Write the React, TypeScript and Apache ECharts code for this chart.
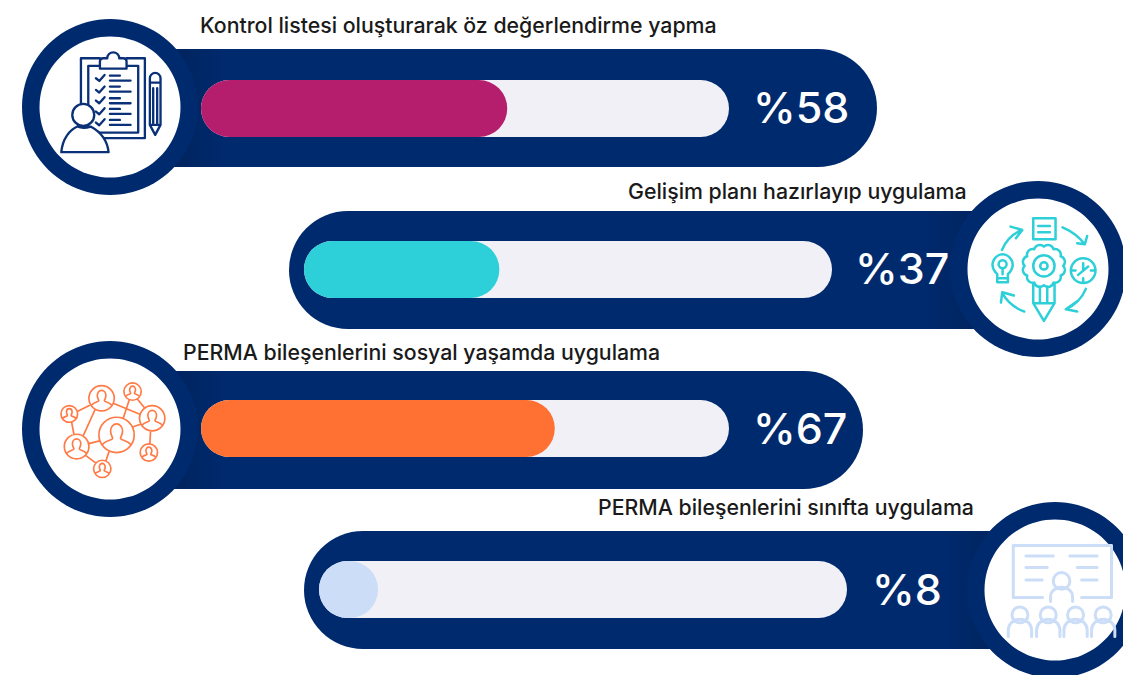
import React, { useEffect, useRef } from "react";
import * as echarts from "echarts";

const categories = [
  "Kontrol listesi oluşturarak öz değerlendirme yapma",
  "Gelişim planı hazırlayıp uygulama",
  "PERMA bileşenlerini sosyal yaşamda uygulama",
  "PERMA bileşenlerini sınıfta uygulama",
];
const values = [58, 37, 67, 8];
const barColors = ["#B41E6C", "#2DCFD8", "#FF7033", "#CCDDF8"];

const NAVY = "#002A6E";
const SHADE = "#00245F";
const TRACK = "#F0F0F6";
const FONT = "Inter, 'Noto Sans', sans-serif";

const trackLeft = [201, 304, 201, 319];
const trackTop = [80, 241, 400, 561];
const pillLeft = [100, 289, 100, 304];
const pillRight = [877, 1038, 863, 1055];
const pillTop = [49, 211, 371, 531];
const circleX = [110, 1038, 110, 1055];
const circleY = [107, 269, 429, 590];
const titleX = [200, 628, 183, 598];
const titleY = [25, 191, 352, 507];
const valueX = [753, 855, 753, 872];
const valueY = [107, 268, 428, 589];
const shadeFrom = [180, 975, 180, 990];
const shadeTo = [225, 925, 225, 945];

const circ = (cx: number, cy: number, r: number) =>
  `M${cx - r} ${cy}a${r} ${r} 0 1 0 ${2 * r} 0a${r} ${r} 0 1 0 ${-2 * r} 0Z`;
const seg = (x1: number, y1: number, x2: number, y2: number) => `M${x1} ${y1}L${x2} ${y2}`;

function gear(cx: number, cy: number, r: number, lobes: number) {
  let d = "";
  for (let i = 0; i <= lobes; i++) {
    const a = (i / lobes) * Math.PI * 2;
    const x = cx + r * Math.cos(a);
    const y = cy + r * Math.sin(a);
    d += i === 0 ? `M${x} ${y}` : `A${r * 0.3} ${r * 0.3} 0 0 1 ${x} ${y}`;
  }
  return d + "Z";
}

function person(cx: number, cy: number, r: number) {
  const h = r * 0.34;
  return (
    `M${cx - h} ${cy - r * 0.22}a${h} ${h * 1.2} 0 1 1 ${2 * h} 0` +
    `c0 ${r * 0.2} ${-r * 0.1} ${r * 0.3} ${-r * 0.12} ${r * 0.42}` +
    `c0 ${r * 0.1} ${r * 0.4} ${r * 0.1} ${r * 0.55} ${r * 0.32}` +
    `M${cx - h} ${cy - r * 0.22}` +
    `c0 ${r * 0.2} ${r * 0.1} ${r * 0.3} ${r * 0.12} ${r * 0.42}` +
    `c0 ${r * 0.1} ${-r * 0.4} ${r * 0.1} ${-r * 0.55} ${r * 0.32}`
  );
}

const checks = [205, 240, 272, 305, 338]
  .map((y) => `M228 ${y}L238 ${y + 8}L254 ${y - 10}`)
  .join("");
const listLines = [197, 230, 265, 297, 330]
  .map((y) => seg(270, y, 300, y) + seg(270, y + 15, 332, y + 15))
  .join("");

const iconClipboard =
  "M240 145H183V385H375V145H320M240 168H205V368H355V168H320" +
  "M240 176V155Q240 145 250 145H262A18 18 0 0 1 298 145H310Q320 145 320 155V176Z" +
  checks +
  listLines +
  "M390 345V205A16 16 0 0 1 422 205V345L406 375ZM390 218H422M400 235V340M412 235V340M390 345H422";
const iconPerson =
  circ(190, 315, 33) + "M124 427C128 385 150 360 172 350Q190 358 212 350C240 365 262 390 266 427Z";

const iconGrowth =
  "M280 130H347V193H280ZM295 153H330M295 172H330" +
  "M186 225Q205 180 247 165M212 155L247 165L228 190" +
  "M368 157Q410 175 435 208M442 183L435 208L412 205" +
  "M438 342Q420 385 378 403M414 378L378 403L412 410" +
  "M253 410Q210 395 187 355M183 383L187 352L222 362" +
  gear(312, 273, 58, 12) +
  circ(312, 273, 32) +
  circ(312, 273, 11) +
  "M280 325V385L312 438L344 385V325M280 385H344M300 335V385M322 335V385" +
  "M172 298C140 265 170 238 188 238C206 238 236 265 204 298V322H172ZM188 280V298M175 310H200" +
  circ(188, 268, 12) +
  circ(430, 287, 37) +
  "M430 265V285M415 300L445 275M393 287H407M453 287H467M430 310V322";

const netNodes = [
  [290, 300, 53],
  [245, 190, 38],
  [338, 170, 26],
  [397, 250, 38],
  [148, 237, 25],
  [170, 335, 37],
  [247, 402, 26],
  [387, 353, 26],
];
const iconNetwork =
  netNodes.map(([x, y, r]) => circ(x, y, r) + person(x, y, r)).join("") +
  seg(172, 230, 208, 212) +
  seg(280, 205, 360, 238) +
  seg(328, 195, 310, 250) +
  seg(353, 193, 375, 220) +
  seg(225, 225, 190, 302) +
  seg(155, 262, 162, 298) +
  seg(205, 327, 238, 318) +
  seg(198, 362, 228, 385) +
  seg(268, 348, 258, 378) +
  seg(342, 275, 362, 268) +
  seg(392, 288, 390, 327);

const iconClass =
  "M248 308H160V152H455V308H365" +
  "M198 183H280M198 218H262M198 255H247M330 183H412M352 218H412M365 255H412" +
  circ(305, 258, 25) +
  "M272 320V305A33 28 0 0 1 338 305V320" +
  [180, 265, 347, 430]
    .map((x) => circ(x, 360, 24) + `M${x - 35} 425V405A35 32 0 0 1 ${x + 35} 405V425`)
    .join("");

const iconDefs = [
  { name: "iconClipboard", d: iconClipboard, x: 20, y: 10, stroke: "#0A3178", lw: 7, fill: "none" },
  { name: "iconPerson", d: iconPerson, x: 20, y: 10, stroke: "#0A3178", lw: 7, fill: "#fff" },
  { name: "iconGrowth", d: iconGrowth, x: 940, y: 175, stroke: "#2DCFD8", lw: 7.5, fill: "none" },
  { name: "iconNetwork", d: iconNetwork, x: 20, y: 335, stroke: "#FF7A45", lw: 5, fill: "none" },
  { name: "iconClass", d: iconClass, x: 960, y: 495, stroke: "#CCDDF8", lw: 9, fill: "none" },
];
iconDefs.forEach((i) =>
  echarts.graphic.registerShape(i.name, echarts.graphic.extendPath(i.d, {}) as any)
);

export default function App() {
  const ref = useRef<HTMLDivElement>(null);
  useEffect(() => {
    const chart = echarts.init(ref.current!, undefined, { renderer: "svg" });
    const idx = categories.map((_, i) => i);
    const graphic: any[] = [];
    idx.forEach((i) => {
      graphic.push({
        type: "rect",
        shape: { x: pillLeft[i], y: pillTop[i], width: pillRight[i] - pillLeft[i], height: 118, r: 59 },
        style: {
          fill: new echarts.graphic.LinearGradient(
            shadeFrom[i],
            0,
            shadeTo[i],
            0,
            [
              { offset: 0, color: SHADE },
              { offset: 1, color: NAVY },
            ],
            true
          ),
        },
      });
    });
    idx.forEach((i) => {
      graphic.push({ type: "circle", shape: { cx: circleX[i], cy: circleY[i], r: 88 }, style: { fill: NAVY } });
      graphic.push({ type: "circle", shape: { cx: circleX[i], cy: circleY[i], r: 70.5 }, style: { fill: "#fff" } });
      graphic.push({
        type: "text",
        x: titleX[i],
        y: titleY[i],
        style: { text: categories[i], fill: "#1A1A1A", font: `500 21.3px ${FONT}`, verticalAlign: "middle", align: "left" },
      });
      graphic.push({
        type: "text",
        x: valueX[i],
        y: valueY[i],
        style: { text: `%${values[i]}`, fill: "#fff", font: `500 43px ${FONT}`, verticalAlign: "middle", align: "left" },
      });
    });
    iconDefs.forEach((ic) => {
      graphic.push({
        type: ic.name,
        x: ic.x,
        y: ic.y,
        scaleX: 1 / 3,
        scaleY: 1 / 3,
        style: { fill: ic.fill, stroke: ic.stroke, lineWidth: ic.lw, lineJoin: "round", lineCap: "round" },
      });
    });

    chart.setOption({
      animation: false,
      backgroundColor: "#fff",
      graphic,
      grid: idx.map((i) => ({ left: trackLeft[i], top: trackTop[i], width: 528, height: 57 })),
      xAxis: idx.map((i) => ({ type: "value", gridIndex: i, min: 0, max: 100, show: false })),
      yAxis: idx.map((i) => ({ type: "category", gridIndex: i, data: [categories[i]], show: false })),
      series: idx.map((i) => ({
        type: "bar",
        xAxisIndex: i,
        yAxisIndex: i,
        data: [values[i]],
        barWidth: 57,
        barMinHeight: 59,
        showBackground: true,
        backgroundStyle: { color: TRACK, borderRadius: 28.5 },
        itemStyle: { color: barColors[i], borderRadius: 28.5 },
        z: 5,
      })),
    });
    return () => chart.dispose();
  }, []);
  return (
    <div
      ref={ref}
      style={{ position: "absolute", left: 0, top: 0, width: 1123, height: 675, overflow: "hidden", background: "#fff" }}
    />
  );
}
